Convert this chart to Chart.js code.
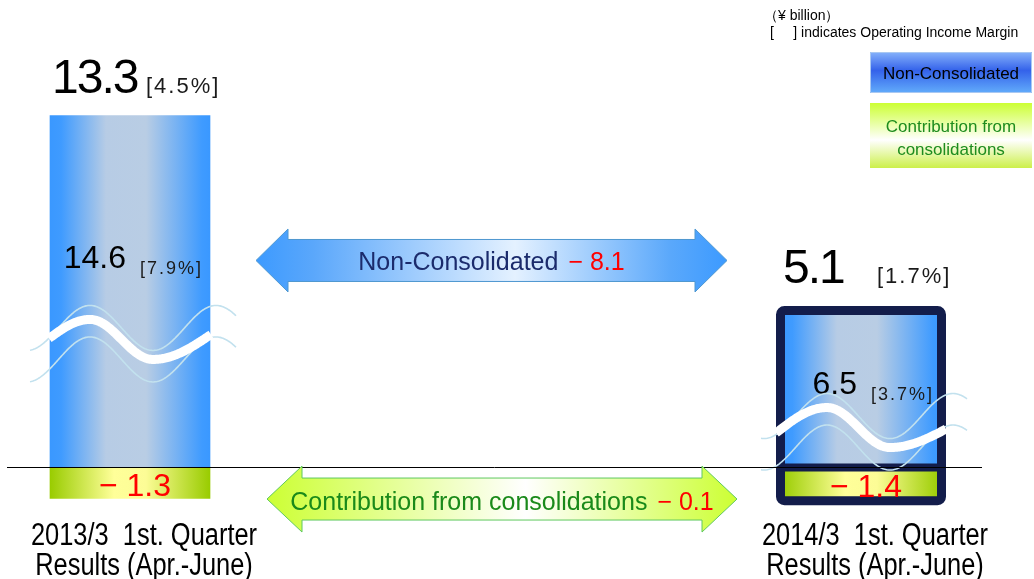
<!DOCTYPE html>
<html>
<head>
<meta charset="utf-8">
<title>Operating Income 1st Quarter</title>
<script src="https://cdn.jsdelivr.net/npm/chart.js@4.4.1/dist/chart.umd.min.js"></script>
<style>
  html, body { margin: 0; padding: 0; background: #fff; }
  #wrap { width: 1034px; height: 579px; position: relative; }
</style>
</head>
<body>
<div id="wrap"><canvas id="incomeChart"></canvas></div>
<script>
// values in ¥ billion
const periods = [['2013/3  1st. Quarter', 'Results (Apr.-June)'], ['2014/3  1st. Quarter', 'Results (Apr.-June)']];
const nonConsolidated = [14.6, 6.5];
const contribution = [-1.3, -1.4];
const totals = [13.3, 5.1];
const totalMargins = ['4.5%', '1.7%'];
const nonConsMargins = ['7.9%', '3.7%'];
const nonConsChange = -8.1;
const contributionChange = -0.1;

// decoration placement (y in axis units)
const innerLabelAt = [8.27, 3.03];
const breaks = [
    { at: 5.3, half: 81, left: -1, right: -5, peak: -40, trough: 23 },
    { at: 1.64, half: 85, left: 5.5, right: 1.5, peak: -34, trough: 29 }
];
const arrowsAt = [8.58, -1.33];
const framed = 1;

const FONT = "'Liberation Sans', Arial, sans-serif";
const NAVY = '#131d4b';
const RED = '#ff0000';

Chart.defaults.font.family = FONT;

function fmt(v) {
    return (v < 0 ? '\u2212 ' : '') + Math.abs(v).toFixed(1);
}

function barGradient(stops) {
    return (c) => {
        const chart = c.chart;
        if (!chart.chartArea || c.dataIndex === undefined) return stops[0][1];
        const x = chart.scales.x.getPixelForValue(c.dataIndex);
        if (!Number.isFinite(x)) return stops[0][1];
        const g = chart.ctx.createLinearGradient(x - 80, 0, x + 80, 0);
        stops.forEach(s => g.addColorStop(s[0], s[1]));
        return g;
    };
}

function thickWave(ctx, cx, cy, w) {
    const pts = [[cx - w.half, cy + w.left], [cx + w.peak, cy - 20], [cx + w.trough, cy + 20], [cx + w.half, cy + w.right]];
    ctx.beginPath();
    ctx.moveTo(pts[0][0], pts[0][1]);
    for (let s = 0; s < 3; s++) {
        const [xa, ya] = pts[s];
        const [xb, yb] = pts[s + 1];
        for (let x = xa + 1; x <= xb; x++) {
            const t = (x - xa) / (xb - xa);
            let e;
            if (s === 0) e = Math.sin(t * Math.PI / 2);
            else if (s === 2) e = 1 - Math.cos(t * Math.PI / 2);
            else e = (1 - Math.cos(t * Math.PI)) / 2;
            ctx.lineTo(x, ya + (yb - ya) * e);
        }
    }
    ctx.stroke();
}

function thinWave(ctx, cx, cy, peak, off, amp) {
    ctx.beginPath();
    for (let x = cx - 100; x <= cx + 106; x++) {
        const y = cy + off - amp * Math.cos(Math.PI * (x - cx - peak) / 63);
        if (x === cx - 100) ctx.moveTo(x, y); else ctx.lineTo(x, y);
    }
    ctx.stroke();
}

function doubleArrow(ctx, x0, x1, cy, head, headHalf, shaftHalf) {
    ctx.beginPath();
    ctx.moveTo(x0, cy);
    ctx.lineTo(x0 + head, cy - headHalf);
    ctx.lineTo(x0 + head, cy - shaftHalf);
    ctx.lineTo(x1 - head, cy - shaftHalf);
    ctx.lineTo(x1 - head, cy - headHalf);
    ctx.lineTo(x1, cy);
    ctx.lineTo(x1 - head, cy + headHalf);
    ctx.lineTo(x1 - head, cy + shaftHalf);
    ctx.lineTo(x0 + head, cy + shaftHalf);
    ctx.lineTo(x0 + head, cy + headHalf);
    ctx.closePath();
}

function hGradient(ctx, x0, x1, stops) {
    const g = ctx.createLinearGradient(x0, 0, x1, 0);
    stops.forEach(s => g.addColorStop(s[0], s[1]));
    return g;
}

function vGradient(ctx, y0, y1, stops) {
    const g = ctx.createLinearGradient(0, y0, 0, y1);
    stops.forEach(s => g.addColorStop(s[0], s[1]));
    return g;
}

// number + [margin] pair
function valueText(ctx, xNum, yNum, num, numSize, spacing, xBr, yBr, br, brSize) {
    ctx.textAlign = 'left';
    ctx.fillStyle = '#000';
    ctx.font = numSize + 'px ' + FONT;
    ctx.letterSpacing = spacing + 'px';
    ctx.fillText(num, xNum, yNum);
    ctx.fillStyle = '#1a1a1a';
    ctx.font = brSize + 'px ' + FONT;
    ctx.letterSpacing = '2px';
    ctx.fillText('[' + br + ']', xBr, yBr);
    ctx.letterSpacing = '0px';
}

function arrowText(ctx, cx, baseY, label, labelColor, change) {
    ctx.font = '25px ' + FONT;
    const a = label, b = fmt(change);
    const wa = ctx.measureText(a).width, wb = ctx.measureText(b).width;
    const start = cx - (wa + 10 + wb) / 2;
    ctx.textAlign = 'left';
    ctx.fillStyle = labelColor;
    ctx.fillText(a, start, baseY);
    ctx.fillStyle = RED;
    ctx.fillText(b, start + wa + 10, baseY);
}

const decor = {
    id: 'decor',
    afterDatasetsDraw(chart) {
        const ctx = chart.ctx;
        const xScale = chart.scales.x;
        const yScale = chart.scales.y;
        const blue = chart.getDatasetMeta(0).data;
        const green = chart.getDatasetMeta(1).data;
        const zero = yScale.getPixelForValue(0);
        ctx.save();

        // frame around the latest quarter
        const fb = blue[framed], fg = green[framed];
        ctx.strokeStyle = NAVY;
        ctx.lineWidth = 9;
        ctx.lineJoin = 'round';
        ctx.beginPath();
        ctx.roundRect(fb.x - 80.5, fb.y, 161, fg.y - fb.y, 4);
        ctx.stroke();
        ctx.lineWidth = 8;
        ctx.beginPath();
        ctx.moveTo(fb.x - 81, zero + 0.5);
        ctx.lineTo(fb.x + 81, zero + 0.5);
        ctx.stroke();

        blue.forEach((b, i) => {
            const g = green[i];
            const outerTop = b.y - (i === framed ? 4.5 : 0);
            // totals with operating income margin
            valueText(ctx, b.x - 78, outerTop - 23, totals[i].toFixed(1), 48, -2,
                b.x + 16, outerTop - 23, totalMargins[i], 22);
            // non-consolidated value inside the bar
            const iy = yScale.getPixelForValue(innerLabelAt[i]);
            ctx.font = '32px ' + FONT;
            const numW = ctx.measureText(nonConsolidated[i].toFixed(1)).width;
            valueText(ctx, b.x - 4 - numW, iy, nonConsolidated[i].toFixed(1), 32, 0,
                b.x + 10, iy + 6, nonConsMargins[i], 18);
            // contribution value in the green part
            ctx.font = '32px ' + FONT;
            ctx.fillStyle = RED;
            ctx.textAlign = 'center';
            ctx.fillText(fmt(contribution[i]), b.x + 5, (g.y + g.base) / 2 + 13);

            // axis break
            const w = breaks[i];
            const wy = yScale.getPixelForValue(w.at);
            ctx.strokeStyle = '#c2e1ee';
            ctx.lineWidth = 1.6;
            thinWave(ctx, b.x, wy, w.peak, -11.5, 22.5);
            thinWave(ctx, b.x, wy, w.peak, 20, 22.5);
            ctx.strokeStyle = '#ffffff';
            ctx.lineWidth = 9;
            ctx.lineCap = 'butt';
            thickWave(ctx, b.x, wy, w);
        });

        // zero line
        const zy = Math.round(zero) + 0.5;
        ctx.strokeStyle = '#000';
        ctx.lineWidth = 1;
        ctx.beginPath();
        ctx.moveTo(7, zy);
        ctx.lineTo(982, zy);
        ctx.stroke();

        // category labels (condensed) under each bar
        ctx.fillStyle = '#000';
        ctx.textAlign = 'center';
        ctx.font = '31px ' + FONT;
        xScale.getLabels().forEach((lines, i) => {
            const lx = xScale.getPixelForValue(i) + 14;
            lines.forEach((line, k) => {
                ctx.save();
                ctx.translate(lx, 545 + k * 29.5);
                ctx.scale(0.82, 1);
                ctx.fillText(line, 0, 0);
                ctx.restore();
            });
        });

        // change arrows
        const labels = chart.data.datasets.map(d => d.label);
        let cy = yScale.getPixelForValue(arrowsAt[0]);
        let x0 = blue[0].x + 126, x1 = blue[1].x - 134;
        doubleArrow(ctx, x0, x1, cy, 32, 31.5, 21);
        ctx.fillStyle = hGradient(ctx, x0, x1, [[0, '#3c9aff'], [0.12, '#5aa7fb'], [0.55, '#e4f1ff'], [0.88, '#5aa8fb'], [1, '#3c9aff']]);
        ctx.fill();
        ctx.strokeStyle = '#4f98d0';
        ctx.lineWidth = 1;
        ctx.stroke();
        arrowText(ctx, (x0 + x1) / 2, cy + 9.5, labels[0], '#1b2b6c', nonConsChange);

        cy = yScale.getPixelForValue(arrowsAt[1]);
        x0 = blue[0].x + 137;
        x1 = blue[1].x - 124;
        doubleArrow(ctx, x0, x1, cy, 35, 33, 21);
        ctx.fillStyle = hGradient(ctx, x0, x1, [[0, '#ccff33'], [0.55, '#ffffff'], [1, '#ccff33']]);
        ctx.fill();
        ctx.strokeStyle = '#5fc85f';
        ctx.stroke();
        arrowText(ctx, (x0 + x1) / 2, cy + 11, labels[1], '#1a8a1a', contributionChange);

        // unit note and legend boxes
        ctx.textAlign = 'left';
        ctx.fillStyle = '#000';
        ctx.font = '14px ' + FONT;
        ctx.fillText('（¥ billion）', 764, 20);
        ctx.fillText('[     ] indicates Operating Income Margin', 770, 37);

        ctx.fillStyle = vGradient(ctx, 52, 93, [[0, '#86b2fb'], [0.45, '#3462ea'], [1, '#62acfb']]);
        ctx.fillRect(870, 52, 162, 41);
        ctx.strokeStyle = '#a9c8f2';
        ctx.lineWidth = 1;
        ctx.strokeRect(870.5, 52.5, 161, 40);
        ctx.fillStyle = '#000';
        ctx.textAlign = 'center';
        ctx.font = '17px ' + FONT;
        ctx.fillText(labels[0], 951, 79);

        ctx.fillStyle = vGradient(ctx, 103, 168, [[0, '#ccff33'], [0.57, '#ffffff'], [1, '#ccf04a']]);
        ctx.fillRect(870, 103, 162, 65);
        const words = labels[1].split(' ');
        ctx.fillStyle = '#1e8c1e';
        ctx.fillText(words.slice(0, 2).join(' '), 951, 132);
        ctx.fillText(words.slice(2).join(' '), 951, 155);

        ctx.restore();
    }
};

const config = {
    type: 'bar',
    data: {
        labels: periods,
        datasets: [
            {
                label: 'Non-Consolidated',
                data: nonConsolidated,
                backgroundColor: barGradient([[0, '#3a98ff'], [0.07, '#3f9bff'], [0.35, '#b7cce5'], [0.6, '#b9cde4'], [0.95, '#3f9bff'], [1, '#3a98ff']]),
                clip: false
            },
            {
                label: 'Contribution from consolidations',
                data: contribution,
                backgroundColor: barGradient([[0, '#99cc00'], [0.4, '#ffff99'], [0.6, '#fcfc96'], [1, '#99cc00']]),
                clip: false
            }
        ]
    },
    options: {
        responsive: true,
        maintainAspectRatio: false,
        animation: false,
        layout: { padding: { left: 130, right: 173, top: 0, bottom: 66 } },
        datasets: { bar: { barThickness: 160 } },
        scales: {
            x: { stacked: true, offset: false, display: false },
            y: { stacked: true, display: false, min: -1.91, max: 19.4 }
        },
        plugins: {
            legend: { display: false },
            tooltip: { enabled: false }
        }
    },
    plugins: [decor]
};

new Chart(document.getElementById('incomeChart'), config);
</script>
</body>
</html>
